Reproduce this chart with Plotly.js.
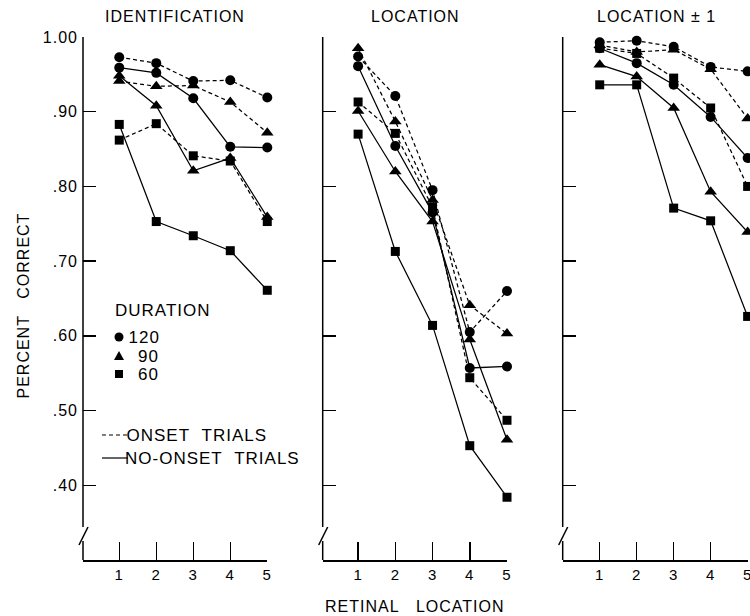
<!DOCTYPE html>
<html><head><meta charset="utf-8">
<script src="https://cdn.plot.ly/plotly-3.0.1.min.js"></script>
<style>
html,body{margin:0;padding:0;background:#fff;}
#chart{width:750px;height:616px;}
.main-svg text{letter-spacing:1px;}
</style></head><body><div id="chart"></div>
<script>
// ---- data ----
const retinalLocation = [1, 2, 3, 4, 5];
const xTickLabels = ['1', '2', '3', '4', '5'];
const yTickValues = [0.4, 0.5, 0.6, 0.7, 0.8, 0.9, 1.0];
const yTickLabels = ['.40', '.50', '.60', '.70', '.80', '.90', '1.00'];
const panelTitles = ['IDENTIFICATION', 'LOCATION', 'LOCATION \u00b1 1'];
const durationLabels = ['120', '90', '60'];
const trialLabels = ['ONSET\u00a0\u00a0TRIALS', 'NO-ONSET\u00a0\u00a0TRIALS'];

// Identification
const identOnset120   = [0.973, 0.965, 0.941, 0.942, 0.919];
const identOnset90    = [0.941, 0.934, 0.935, 0.913, 0.872];
const identOnset60    = [0.862, 0.884, 0.841, 0.834, 0.753];
const identNoOnset120 = [0.959, 0.952, 0.918, 0.853, 0.852];
const identNoOnset90  = [0.948, 0.908, 0.821, 0.838, 0.759];
const identNoOnset60  = [0.883, 0.753, 0.734, 0.714, 0.661];

// Location
const locOnset120   = [0.974, 0.921, 0.795, 0.605, 0.660];
const locOnset90    = [0.985, 0.887, 0.782, 0.641, 0.603];
const locOnset60    = [0.913, 0.871, 0.772, 0.544, 0.487];
const locNoOnset120 = [0.961, 0.854, 0.765, 0.557, 0.559];
const locNoOnset90  = [0.901, 0.820, 0.753, 0.595, 0.461];
const locNoOnset60  = [0.870, 0.713, 0.614, 0.453, 0.384];

// Location +/- 1
const loc1Onset120   = [0.993, 0.995, 0.987, 0.960, 0.954];
const loc1Onset90    = [0.989, 0.980, 0.983, 0.957, 0.891];
const loc1Onset60    = [0.985, 0.978, 0.945, 0.905, 0.800];
const loc1NoOnset120 = [0.985, 0.965, 0.936, 0.893, 0.838];
const loc1NoOnset90  = [0.963, 0.947, 0.905, 0.793, 0.739];
const loc1NoOnset60  = [0.936, 0.936, 0.771, 0.754, 0.626];

// ---- build ----
const panels = [
  {xa: 'x',  ya: 'y',  onset: [identOnset120, identOnset90, identOnset60], noOnset: [identNoOnset120, identNoOnset90, identNoOnset60]},
  {xa: 'x2', ya: 'y2', onset: [locOnset120, locOnset90, locOnset60], noOnset: [locNoOnset120, locNoOnset90, locNoOnset60]},
  {xa: 'x3', ya: 'y3', onset: [loc1Onset120, loc1Onset90, loc1Onset60], noOnset: [loc1NoOnset120, loc1NoOnset90, loc1NoOnset60]}
];
const symbols = ['circle', 'triangle-up', 'square'];
const sizes = [10, 11, 9];

const traces = [];
panels.forEach(p => {
  [['onset', '4px,3px'], ['noOnset', 'solid']].forEach(([key, dash]) => {
    p[key].forEach((vals, i) => {
      traces.push({
        x: retinalLocation, y: vals, xaxis: p.xa, yaxis: p.ya,
        type: 'scatter', mode: 'lines+markers', cliponaxis: false,
        line: {color: '#000', width: 1.25, dash: dash},
        marker: {symbol: symbols[i], size: sizes[i], color: '#000'},
        hoverinfo: 'skip', showlegend: false
      });
    });
  });
});

// pixel helpers for decorations
const L = 83, T = 37, W = 665, H = 523;
const px = x => (x - L) / W;
const py = y => (T + H - y) / H;

const font = 'Liberation Sans, Arial, sans-serif';
const xax = (domain, range) => ({
  domain: domain, range: range, tickmode: 'array', tickvals: retinalLocation, ticktext: xTickLabels,
  ticks: 'inside', ticklen: 18, tickwidth: 1.5, tickcolor: '#000',
  showline: true, linecolor: '#000', linewidth: 1.5, showgrid: false, zeroline: false,
  ticklabeloverflow: 'allow',
  tickfont: {size: 15, color: '#000', family: font}, fixedrange: true
});
const yax = (anchor, labels) => ({
  anchor: anchor, range: [0.30, 1.00], tickmode: 'array', tickvals: yTickValues, ticktext: yTickLabels,
  ticks: 'inside', ticklen: 13, tickwidth: 1.5, tickcolor: '#000', showticklabels: labels,
  ticklabelstandoff: 4,
  showline: false, showgrid: false, zeroline: false,
  tickfont: {size: 16, color: '#000', family: font}, fixedrange: true
});

const shapes = [];
const axisX = [83, 322.7, 562.7];
axisX.forEach(X => {
  const ln = {type: 'line', xref: 'paper', yref: 'paper', line: {color: '#000', width: 1.5}};
  shapes.push(Object.assign({}, ln, {x0: px(X), x1: px(X), y0: py(37), y1: py(527)}));
  shapes.push(Object.assign({}, ln, {x0: px(X - 4), x1: px(X + 5), y0: py(545), y1: py(527)}));
  shapes.push(Object.assign({}, ln, {x0: px(X), x1: px(X), y0: py(541), y1: py(560)}));
});

// legend glyphs
const mk = {xref: 'paper', yref: 'paper', fillcolor: '#000', line: {color: '#000', width: 0}};
shapes.push(Object.assign({type: 'circle', x0: px(114.5), x1: px(123.5), y0: py(341.5), y1: py(332.5)}, mk));
shapes.push(Object.assign({type: 'path', path: `M ${px(114)} ${py(360)} L ${px(124)} ${py(360)} L ${px(119)} ${py(351)} Z`}, mk));
shapes.push(Object.assign({type: 'rect', x0: px(115), x1: px(123), y0: py(378), y1: py(370)}, mk));
shapes.push({type: 'line', xref: 'paper', yref: 'paper', x0: px(102), x1: px(128), y0: py(435), y1: py(435), line: {color: '#000', width: 1.2, dash: '4px,3px'}});
shapes.push({type: 'line', xref: 'paper', yref: 'paper', x0: px(102), x1: px(128), y0: py(458), y1: py(458), line: {color: '#000', width: 1.2}});

const ann = (text, x, y, xanchor, size, extra) => Object.assign({
  text: text, x: px(x), y: py(y), xref: 'paper', yref: 'paper', showarrow: false,
  xanchor: xanchor, yanchor: 'middle', font: {size: size, color: '#000', family: font}
}, extra || {});

const annotations = [
  ann(panelTitles[0], 175, 17, 'center', 16),
  ann(panelTitles[1], 415, 17, 'center', 16),
  ann(panelTitles[2], 656, 17, 'center', 16),
  ann('RETINAL\u00a0\u00a0\u00a0LOCATION', 414.5, 606, 'center', 16),
  ann('PERCENT\u00a0\u00a0\u00a0CORRECT', 23, 306, 'center', 16, {textangle: -90}),
  ann('DURATION', 117, 310, 'left', 17),
  ann(durationLabels[0], 160, 337, 'right', 17),
  ann(durationLabels[1], 160, 356, 'right', 17),
  ann(durationLabels[2], 160, 374, 'right', 17),
  ann(trialLabels[0], 131, 435, 'left', 17),
  ann(trialLabels[1], 131, 458, 'left', 17)
];

const layout = {
  width: 750, height: 616,
  margin: {l: L, r: 750 - L - W, t: T, b: 616 - T - H, pad: 0},
  paper_bgcolor: '#fff', plot_bgcolor: '#fff',
  showlegend: false, hovermode: false,
  font: {family: font, color: '#000'},
  xaxis: xax([0, 0.2771], [0.02, 5]),
  xaxis2: xax([0.3605, 0.6376], [0.05, 5]),
  xaxis3: xax([0.7214, 1], [0, 5.01]),
  yaxis: yax('x', true),
  yaxis2: yax('x2', false),
  yaxis3: yax('x3', false),
  shapes: shapes,
  annotations: annotations
};

Plotly.newPlot('chart', traces, layout, {staticPlot: true, displayModeBar: false});
</script></body></html>
